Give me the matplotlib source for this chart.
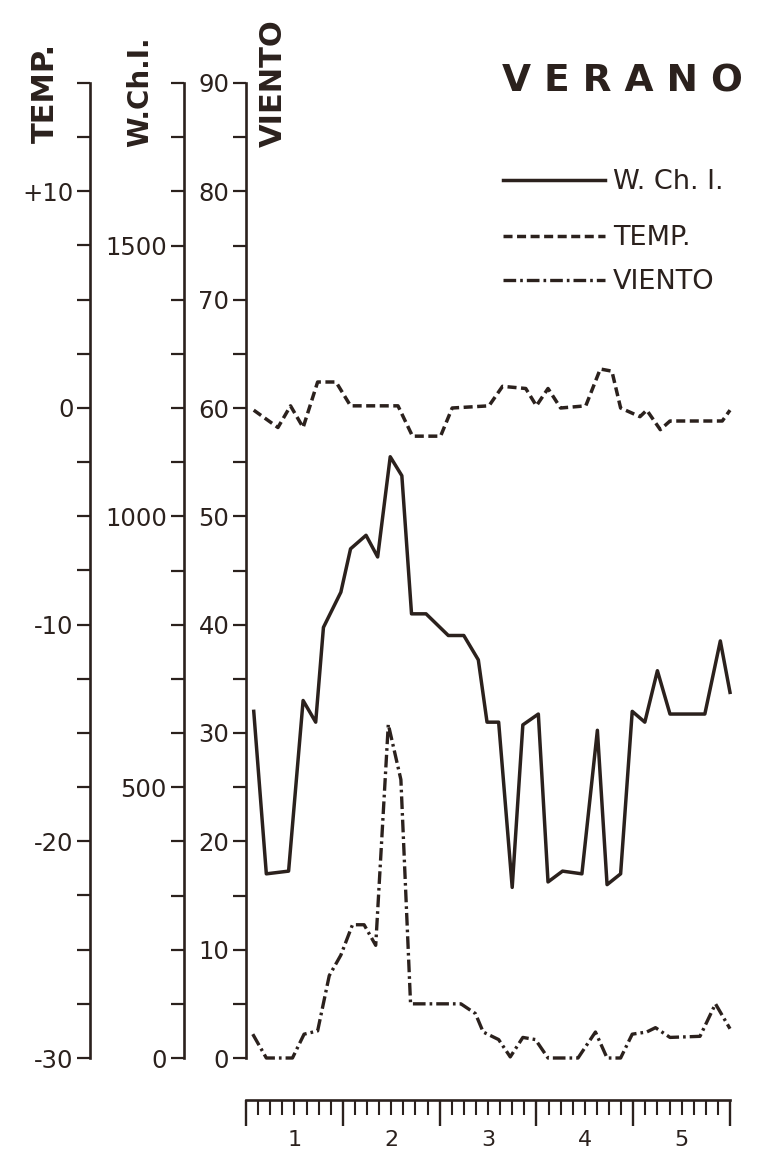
import matplotlib.pyplot as plt
from matplotlib.lines import Line2D
from matplotlib import transforms
from matplotlib.ticker import MultipleLocator, FixedLocator, FixedFormatter

# tiempo en dias (lecturas cada 3 horas)
wchi_x = [0.08, 0.21, 0.44, 0.59, 0.72, 0.80, 0.98, 1.08, 1.24, 1.36, 1.49, 1.61,
          1.71, 1.86, 2.09, 2.25, 2.40, 2.49, 2.61, 2.75, 2.86, 3.02, 3.12, 3.27,
          3.47, 3.63, 3.73, 3.87, 3.99, 4.12, 4.25, 4.38, 4.74, 4.90, 5.00]
wchi = [640, 340, 345, 660, 620, 795, 860, 940, 965, 925, 1110, 1075,
        820, 820, 780, 780, 735, 620, 620, 315, 615, 635, 325, 345,
        340, 605, 320, 340, 640, 620, 715, 635, 635, 770, 675]

temp_x = [0.08, 0.33, 0.46, 0.59, 0.74, 0.93, 1.08, 1.57, 1.72, 2.01, 2.13, 2.51,
          2.65, 2.89, 3.00, 3.12, 3.25, 3.51, 3.66, 3.78, 3.87, 4.07, 4.14, 4.28,
          4.38, 4.92, 5.00]
temp = [-0.1, -0.9, 0.1, -0.9, 1.2, 1.2, 0.1, 0.1, -1.3, -1.3, 0.0, 0.1,
        1.0, 0.9, 0.1, 0.9, 0.0, 0.1, 1.8, 1.7, 0.0, -0.4, -0.1, -1.0,
        -0.6, -0.6, -0.1]

viento_x = [0.07, 0.21, 0.48, 0.60, 0.74, 0.86, 0.98, 1.10, 1.22, 1.34, 1.47, 1.60,
            1.70, 2.22, 2.37, 2.45, 2.61, 2.73, 2.86, 2.99, 3.12, 3.43, 3.61, 3.73,
            3.87, 3.99, 4.14, 4.23, 4.38, 4.69, 4.85, 5.00]
viento = [2.2, 0.0, 0.0, 2.2, 2.5, 7.6, 9.5, 12.3, 12.3, 10.4, 30.8, 25.7,
          5.0, 5.0, 4.1, 2.4, 1.7, 0.1, 1.9, 1.7, 0.0, 0.0, 2.4, 0.0,
          0.0, 2.2, 2.4, 2.8, 1.9, 2.0, 5.0, 2.7]

dias = ['1', '2', '3', '4', '5']
temp_labels = ['-30', '-20', '-10', '0', '+10']

tinta = '#2b211d'
W, H = 759, 1151

# estilos de linea
est_wchi = dict(color=tinta, lw=2.5, ls='-')
est_temp = dict(color=tinta, lw=2.5, ls=(0, (2.6, 1.3)))
est_viento = dict(color=tinta, lw=2.4, ls=(0, (3.8, 1.2, 0.8, 1.2)))

fig = plt.figure(figsize=(W / 100, H / 100), dpi=100)
fig.patch.set_facecolor('white')

ax = fig.add_axes([246 / W, 93 / H, 484 / W, 975 / H])
ax.set_facecolor('none')
ax_w = ax.twinx()
ax_t = ax.twinx()

ax.set_xlim(0, 5)
ax.set_ylim(0, 90)
ax_w.set_ylim(0, 1800)
ax_t.set_ylim(-30, 15)

# ejes verticales a la izquierda
for a in (ax, ax_w, ax_t):
    for s in ('top', 'right', 'bottom'):
        a.spines[s].set_visible(False)
    a.spines['left'].set_visible(True)
    a.spines['left'].set_color(tinta)
    a.spines['left'].set_linewidth(1.9)
    a.yaxis.set_ticks_position('left')
    a.tick_params(axis='y', which='both', direction='out', length=9.5,
                  width=1.6, pad=2.5, labelsize=17.5, colors=tinta)

ax_t.spines['left'].set_position(('outward', 112))
ax_w.spines['left'].set_position(('outward', 45))

ax.yaxis.set_major_locator(MultipleLocator(10))
ax.yaxis.set_minor_locator(MultipleLocator(5))
ax_w.yaxis.set_major_locator(MultipleLocator(500))
ax_w.yaxis.set_minor_locator(MultipleLocator(100))
ax_t.yaxis.set_major_locator(FixedLocator([-30, -20, -10, 0, 10]))
ax_t.yaxis.set_major_formatter(FixedFormatter(temp_labels))
ax_t.yaxis.set_minor_locator(MultipleLocator(2.5))

# regla de dias abajo
ax.spines['bottom'].set_visible(True)
ax.spines['bottom'].set_position(('outward', 30))
ax.spines['bottom'].set_bounds(0, 5)
ax.spines['bottom'].set_color(tinta)
ax.spines['bottom'].set_linewidth(1.9)
ax.xaxis.set_major_locator(MultipleLocator(1))
ax.xaxis.set_minor_locator(MultipleLocator(1 / 8))
ax.tick_params(axis='x', which='major', direction='out', length=19, width=1.7,
               labelbottom=False, colors=tinta)
ax.tick_params(axis='x', which='minor', direction='out', length=10.5, width=1.5,
               colors=tinta)
tr = transforms.blended_transform_factory(ax.transData, fig.transFigure)
for i, d in enumerate(dias):
    ax.text(i + 0.5, 1 - 1140 / H, d, transform=tr, ha='center', va='center',
            fontsize=16, color=tinta)

# series
ax_w.plot(wchi_x, wchi, clip_on=False, **est_wchi)
ax_t.plot(temp_x, temp, clip_on=False, **est_temp)
ax.plot(viento_x, viento, clip_on=False, **est_viento)

# titulos de los ejes
for x, y, t, fs in [(45, 143, 'TEMP.', 22), (140, 147, 'W.Ch.I.', 20),
                    (273, 147, 'VIENTO', 22)]:
    fig.text(x / W, 1 - y / H, t, rotation=90, ha='center', va='bottom',
             fontsize=fs, fontweight='bold', color=tinta)

fig.text(502 / W, 1 - 81 / H, 'V E R A N O', ha='left', va='center',
         fontsize=27, fontweight='bold', color=tinta)

# leyenda
for y, t, est in [(180, 'W. Ch. I.', est_wchi), (236, 'TEMP.', est_temp),
                  (280, 'VIENTO', est_viento)]:
    fig.add_artist(Line2D([503 / W, 605 / W], [1 - y / H, 1 - y / H],
                          transform=fig.transFigure, **est))
    fig.text(613 / W, 1 - (y + 2) / H, t, ha='left', va='center',
             fontsize=19.5, color=tinta)

fig.savefig('out.png', dpi=100, facecolor='white')
